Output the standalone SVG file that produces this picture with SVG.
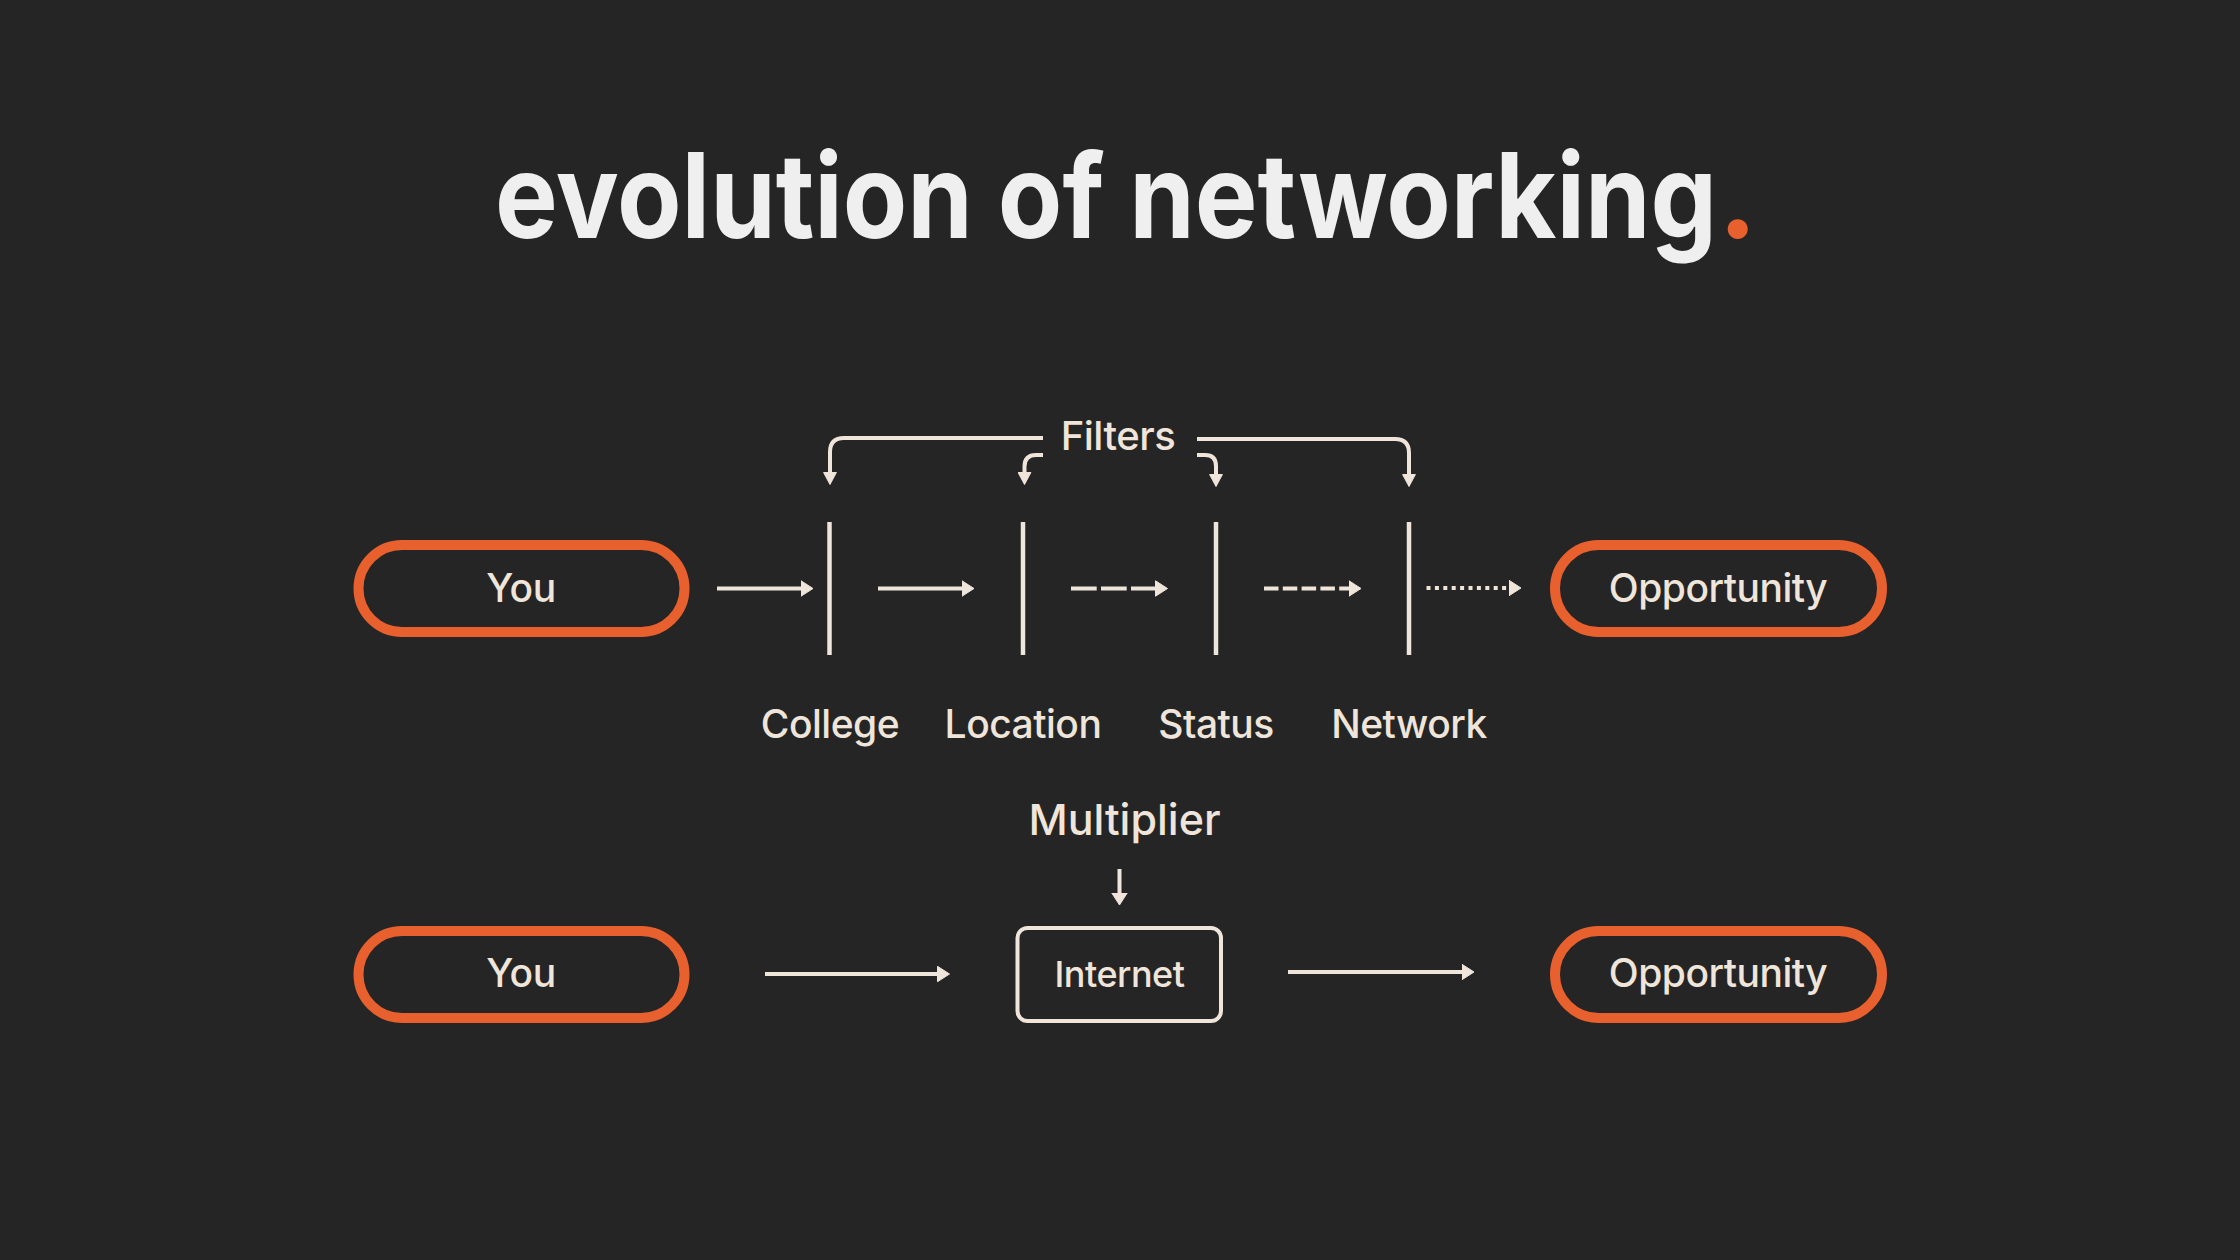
<svg xmlns="http://www.w3.org/2000/svg" width="2240" height="1260" viewBox="0 0 2240 1260">
<defs>
<style>
.lbl{font-family:Inter,"Open Sans","Liberation Sans",sans-serif;font-weight:500;font-size:39px;letter-spacing:-0.5px;fill:#EFE5DA;text-anchor:middle}
.pill{fill:none;stroke:#E8602D;stroke-width:10}
.ln{fill:none;stroke:#EFE5DA;stroke-width:4}
.bar{fill:none;stroke:#EFE5DA;stroke-width:4.5}
</style>
<marker id="ah" viewBox="0 0 13 17" refX="6.5" refY="8.5" markerWidth="13" markerHeight="17" markerUnits="userSpaceOnUse" orient="auto">
<path d="M0.5,0.8 L12.5,8.5 L0.5,16.2 z" fill="#EFE5DA" stroke="#EFE5DA" stroke-width="1" stroke-linejoin="round"/>
</marker>
<marker id="ahs" viewBox="0 0 13 14" refX="6.5" refY="7" markerWidth="13" markerHeight="14" markerUnits="userSpaceOnUse" orient="auto">
<path d="M0.5,0.6 L12.5,7 L0.5,13.4 z" fill="#EFE5DA" stroke="#EFE5DA" stroke-width="1" stroke-linejoin="round"/>
</marker>
</defs>
<rect width="2240" height="1260" fill="#252525"/>
<g id="title" font-family="Inter,'Open Sans','Liberation Sans',sans-serif" font-weight="700" font-size="118">
<text x="495" y="238" textLength="1222" lengthAdjust="spacingAndGlyphs" fill="#EFEFEF">evolution of networking</text>
<text x="1718" y="238" fill="#E8602D">.</text>
</g>

<g id="you1"><rect class="pill" x="358.5" y="545" width="326" height="87" rx="43.5"/><text class="lbl" x="521" y="602">You</text></g>
<g id="opp1"><rect class="pill" x="1555" y="545" width="327" height="87" rx="43.5"/><text class="lbl" x="1718" y="602">Opportunity</text></g>
<g id="college"><line class="bar" x1="829.5" y1="522" x2="829.5" y2="655"/><text class="lbl" x="830" y="738">College</text></g>
<g id="location"><line class="bar" x1="1023" y1="522" x2="1023" y2="655"/><text class="lbl" x="1023" y="738">Location</text></g>
<g id="status"><line class="bar" x1="1216" y1="522" x2="1216" y2="655"/><text class="lbl" x="1216" y="738">Status</text></g>
<g id="network"><line class="bar" x1="1409" y1="522" x2="1409" y2="655"/><text class="lbl" x="1409" y="738">Network</text></g>
<g id="filters"><text class="lbl" x="1118" y="450" style="font-size:40px">Filters</text></g>

<g id="you2"><rect class="pill" x="358.5" y="931" width="326" height="87" rx="43.5"/><text class="lbl" x="521" y="987">You</text></g>
<g id="internet"><rect x="1017.5" y="928" width="203.5" height="93" rx="10" fill="none" stroke="#EFE5DA" stroke-width="4"/><text class="lbl" x="1119.5" y="987" style="font-size:36px">Internet</text></g>
<g id="opp2"><rect class="pill" x="1555" y="931" width="327" height="87" rx="43.5"/><text class="lbl" x="1718" y="987">Opportunity</text></g>
<g id="multiplier"><text class="lbl" x="1124.5" y="835" style="font-size:43px;letter-spacing:0">Multiplier</text></g>

<g id="connectors">
<path class="ln" d="M717,588.5 H807" marker-end="url(#ah)"/>
<path class="ln" d="M878,588.5 H968" marker-end="url(#ah)"/>
<path class="ln" d="M1071,588.5 H1161.5" stroke-dasharray="25.7 4.3" marker-end="url(#ah)"/>
<path class="ln" d="M1264,588.5 H1355" stroke-dasharray="14.5 4.3" marker-end="url(#ah)"/>
<path class="ln" d="M1426.5,588 H1515" stroke-dasharray="4 4.4" marker-end="url(#ah)"/>
<path class="ln" d="M1043,438 H844 Q830,438 830,452 V478.5" marker-end="url(#ahs)"/>
<path class="ln" d="M1043,455 H1036 Q1024.5,455 1024.5,466.5 V478.5" marker-end="url(#ahs)"/>
<path class="ln" d="M1197,455 H1205 Q1216,455 1216,466 V480.5" marker-end="url(#ahs)"/>
<path class="ln" d="M1197,439 H1395 Q1409,439 1409,453 V480.5" marker-end="url(#ahs)"/>
<path class="ln" d="M765,974 H943.5" marker-end="url(#ah)"/>
<path class="ln" d="M1288,972 H1468" marker-end="url(#ah)"/>
<path class="ln" d="M1119.5,869 V899" marker-end="url(#ah)"/>
</g>
</svg>
